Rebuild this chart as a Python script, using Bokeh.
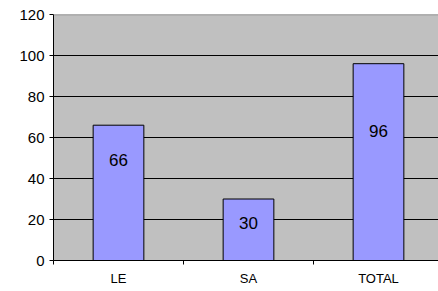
from bokeh.plotting import figure
from bokeh.models import Range1d, FixedTicker, Span, ColumnDataSource
from bokeh.core.properties import value
from bokeh.embed import file_html
from bokeh.resources import INLINE

categories = ["LE", "SA", "TOTAL"]
values = [66, 30, 96]
label_levels = [49, 18.5, 63]   # vertical position of each value label (data units)
y_ticks = [0, 20, 40, 60, 80, 100, 120]

xs = [i + 0.5 for i in range(len(categories))]
src = ColumnDataSource(dict(x=xs, top=values, ly=label_levels,
                            txt=[str(v) for v in values]))

p = figure(width=438, height=291, output_backend="svg", toolbar_location=None,
           x_range=Range1d(0, 385 / 130), y_range=Range1d(0, 120),
           min_border_left=53, min_border_right=0, min_border_top=14,
           min_border_bottom=31)
p.background_fill_color = "#C0C0C0"
p.border_fill_color = "white"
p.outline_line_color = None

p.vbar(x="x", top="top", width=0.39, bottom=0, source=src,
       fill_color="#9999FF", line_color="black", line_width=1)
p.text(x="x", y="ly", text="txt", source=src, text_align="center",
       text_baseline="middle", text_font=value("Liberation Sans"),
       text_font_size="17px", text_color="black")

top_line = Span(location=120, dimension="width", line_color="#808080", line_width=1.5)
p.add_layout(top_line)

# y axis
p.yaxis.ticker = FixedTicker(ticks=y_ticks)
p.yaxis.minor_tick_line_color = None
p.yaxis.major_tick_in = 0
p.yaxis.major_tick_out = 4
p.yaxis.axis_line_color = "black"
p.yaxis.major_tick_line_color = "black"
p.yaxis.major_label_text_font = "Liberation Sans"
p.yaxis.major_label_text_font_size = "15px"
p.yaxis.major_label_text_color = "black"
p.yaxis.major_label_standoff = 5

# x axis: labels at category centres, tick marks at boundaries
p.xaxis.ticker = FixedTicker(ticks=xs, minor_ticks=[0, 1, 2, 3])
p.xaxis.major_label_overrides = {x: c for x, c in zip(xs, categories)}
p.xaxis.major_tick_in = 0
p.xaxis.major_tick_out = 0
p.xaxis.minor_tick_in = 0
p.xaxis.minor_tick_out = 4
p.xaxis.minor_tick_line_color = "black"
p.xaxis.axis_line_color = "black"
p.xaxis.major_label_text_font = "Liberation Sans"
p.xaxis.major_label_text_font_size = "13px"
p.xaxis.major_label_text_color = "black"
p.xaxis.major_label_standoff = 6

p.xgrid.visible = False
p.ygrid.ticker = FixedTicker(ticks=[20, 40, 60, 80, 100])
p.ygrid.grid_line_color = "black"
p.ygrid.grid_line_width = 1

open("out.html", "w").write(file_html(p, INLINE))
